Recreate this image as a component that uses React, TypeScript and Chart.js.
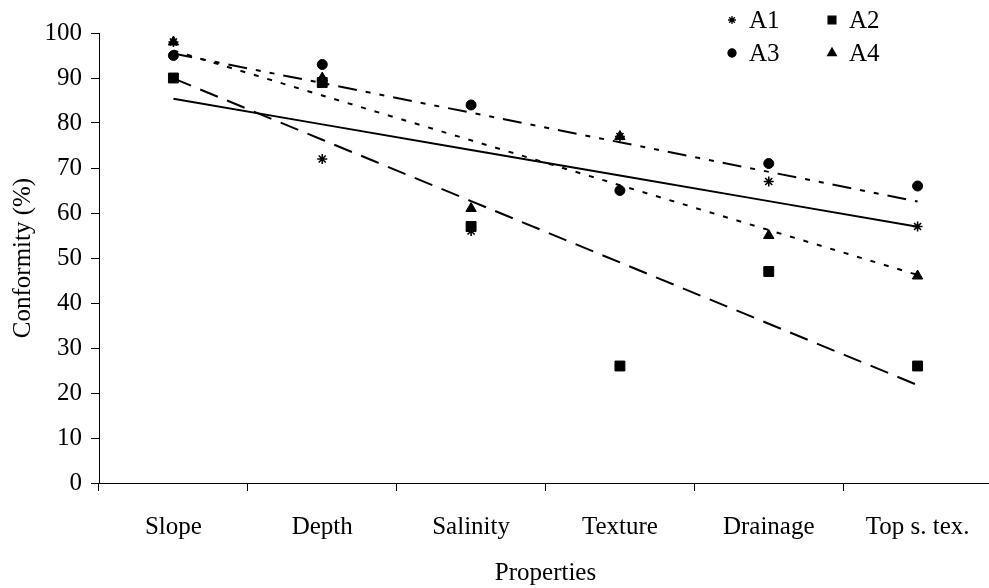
import React, { useEffect, useRef } from 'react';
import { Chart, registerables } from 'chart.js';
import { drawPoint } from 'chart.js/helpers';

Chart.register(...registerables);

// ---- data ----
const categories = ['Slope', 'Depth', 'Salinity', 'Texture', 'Drainage', 'Top s. tex.'];
const seriesNames = ['A1', 'A2', 'A3', 'A4'];
const a1 = [98, 72, 56, 77, 67, 57];
const a2 = [90, 89, 57, 26, 47, 26];
const a3 = [95, 93, 84, 65, 71, 66];
const a4 = [98, 90, 61, 77, 55, 46];
const yMin = 0;
const yMax = 100;
const yStep = 10;

const seriesValues = [a1, a2, a3, a4];
const pointStyles = ['star', 'rect', 'circle', 'triangle'];
const pointRadii = [5, 7, 5, 6];
const legendRadii = [4, 5.5, 4, 5];
const trendDashes = [[], [19, 10], [19, 9, 5, 9, 5, 9], [5, 9]];

const FONT = '"Liberation Serif", "Times New Roman", serif';
const FS = 25;

// least-squares linear trend for a series (as in the original chart's trendlines)
function linearTrend(values: number[]): number[] {
  const n = values.length;
  const xs = values.map((_, i) => i + 1);
  const mx = xs.reduce((a, b) => a + b, 0) / n;
  const my = values.reduce((a, b) => a + b, 0) / n;
  let sxy = 0;
  let sxx = 0;
  for (let i = 0; i < n; i++) {
    sxy += (xs[i] - mx) * (values[i] - my);
    sxx += (xs[i] - mx) * (xs[i] - mx);
  }
  const slope = sxy / sxx;
  return xs.map((x) => my + slope * (x - mx));
}

const cornerLegend = {
  id: 'cornerLegend',
  afterDraw(chart: any) {
    const { ctx, chartArea } = chart;
    ctx.save();
    ctx.font = `${FS}px ${FONT}`;
    ctx.textBaseline = 'middle';
    ctx.textAlign = 'left';
    seriesNames.forEach((name, i) => {
      const x = chartArea.right - 260 + (i % 2) * 100;
      const y = 20 + Math.floor(i / 2) * 33;
      ctx.fillStyle = '#000';
      ctx.strokeStyle = '#000';
      ctx.lineWidth = 1.3;
      drawPoint(ctx, { pointStyle: pointStyles[i], radius: legendRadii[i], rotation: 0, borderWidth: 1.3 } as any, x, y);
      ctx.fillStyle = '#000';
      ctx.fillText(name, x + 17, y + 1);
    });
    ctx.restore();
  },
};

export default function App() {
  const ref = useRef<HTMLCanvasElement>(null);

  useEffect(() => {
    if (!ref.current) return;
    const pointSets = seriesValues.map((vals, i) => ({
      label: seriesNames[i],
      data: vals,
      showLine: false,
      pointStyle: pointStyles[i],
      pointRadius: pointRadii[i],
      pointBackgroundColor: '#000',
      pointBorderColor: '#000',
      pointBorderWidth: i === 0 ? 1.6 : 1,
      borderColor: '#000',
      backgroundColor: '#000',
      order: 0,
    }));
    const trendSets = seriesValues.map((vals, i) => ({
      label: seriesNames[i] + ' trend',
      data: linearTrend(vals),
      borderColor: '#000',
      borderWidth: 2,
      borderDash: trendDashes[i],
      pointRadius: 0,
      fill: false,
      tension: 0,
      order: 1,
    }));

    const chart = new Chart(ref.current, {
      type: 'line',
      data: { labels: categories, datasets: [...trendSets, ...pointSets] as any },
      options: {
        animation: false,
        responsive: false,
        maintainAspectRatio: false,
        devicePixelRatio: 1,
        layout: { padding: { left: 0, right: 7, top: 33, bottom: 0 } },
        plugins: { legend: { display: false }, tooltip: { enabled: false } },
        scales: {
          x: {
            type: 'category',
            offset: true,
            grid: { offset: true, drawOnChartArea: false, drawTicks: true, tickLength: 8, color: '#000', lineWidth: 1 },
            border: { color: '#000', width: 1 },
            ticks: { color: '#000', font: { family: FONT, size: FS }, padding: 21, maxRotation: 0, autoSkip: false },
            title: { display: true, text: 'Properties', color: '#000', font: { family: FONT, size: FS }, padding: { top: 0, bottom: 0 } },
            afterFit: (s: any) => { s.height = 105; },
          },
          y: {
            min: yMin,
            max: yMax,
            grid: { drawOnChartArea: false, drawTicks: true, tickLength: 8, color: '#000', lineWidth: 1 },
            border: { color: '#000', width: 1 },
            ticks: { stepSize: yStep, color: '#000', font: { family: FONT, size: FS }, padding: 9 },
            title: { display: true, text: 'Conformity (%)', color: '#000', font: { family: FONT, size: FS }, padding: { top: 8, bottom: 0 } },
            afterFit: (s: any) => { s.width = 99; },
          },
        },
      },
      plugins: [cornerLegend],
    });
    return () => chart.destroy();
  }, []);

  return (
    <div style={{ position: 'absolute', left: 0, top: 0, width: 989, height: 588, overflow: 'hidden', background: '#fff' }}>
      <canvas ref={ref} width={1000} height={588} style={{ display: 'block', width: 1000, height: 588 }} />
    </div>
  );
}
